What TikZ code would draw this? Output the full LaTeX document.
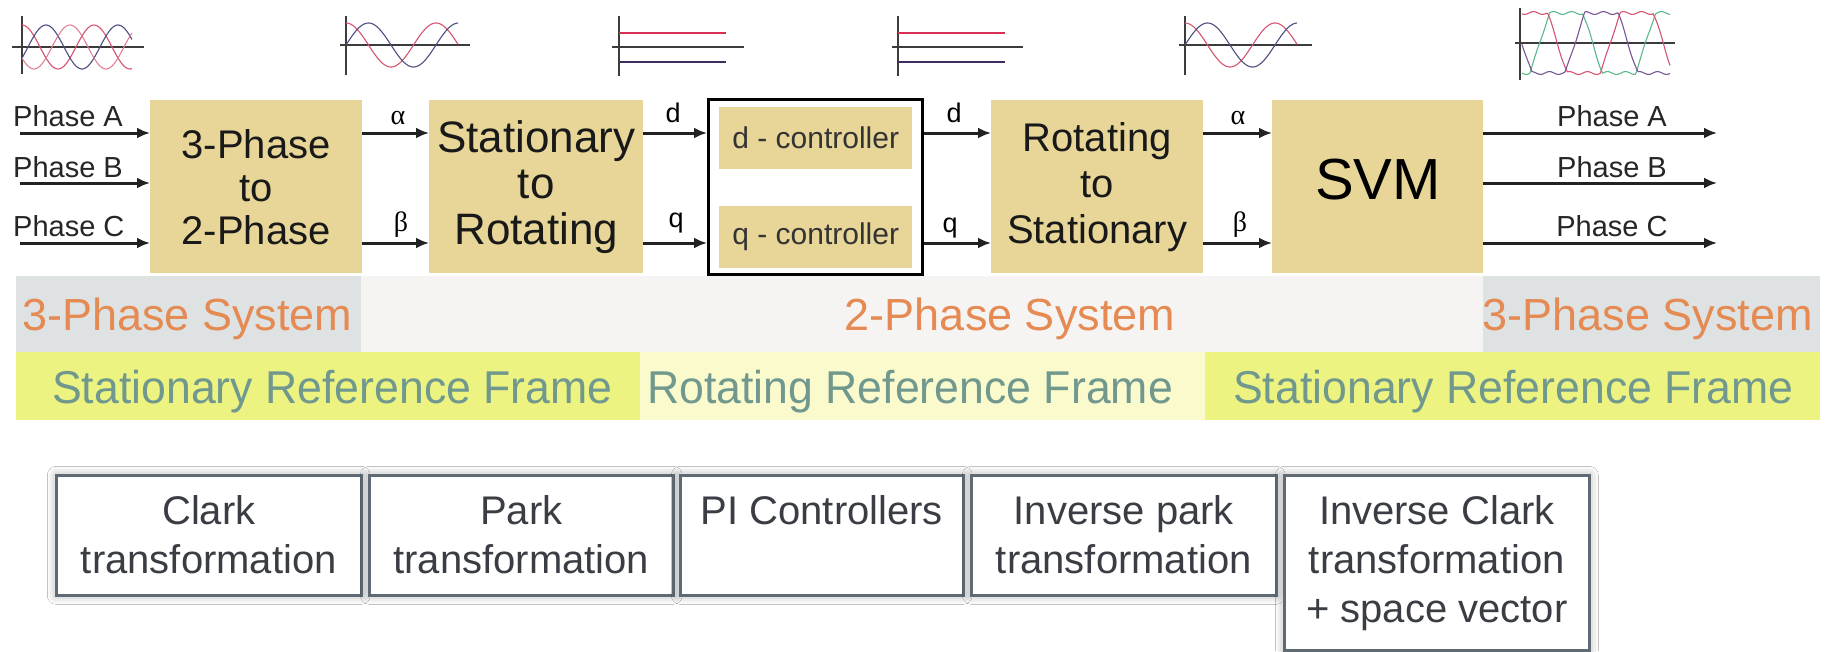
\documentclass[tikz,border=0pt]{standalone}
\usepackage{fontspec}
\setmainfont{Liberation Sans}
\newfontfamily\greekfont{Liberation Serif}
\newfontfamily\framefont[FakeStretch=0.97]{Liberation Sans}
\usetikzlibrary{arrows.meta,shadows.blur}

\definecolor{blockfill}{RGB}{231,214,152}
\definecolor{sigcol}{RGB}{34,34,34}
\definecolor{bandgrey}{RGB}{223,226,227}
\definecolor{bandlight}{RGB}{246,244,243}
\definecolor{bandyellow}{RGB}{237,243,128}
\definecolor{bandpale}{RGB}{250,250,204}
\definecolor{systext}{RGB}{229,138,82}
\definecolor{frametext}{RGB}{112,152,142}
\definecolor{noteborder}{RGB}{95,106,116}
\definecolor{notetext}{RGB}{58,62,68}
\definecolor{wred}{RGB}{214,84,112}
\definecolor{wpink}{RGB}{226,130,150}
\definecolor{wblue}{RGB}{78,78,130}
\definecolor{wgreen}{RGB}{92,184,140}
\definecolor{wpurple}{RGB}{120,84,150}
\definecolor{dcred}{RGB}{214,48,82}
\definecolor{dcpurple}{RGB}{64,44,96}
\definecolor{axiscol}{RGB}{60,60,60}

\tikzset{
  block/.style={fill=blockfill, anchor=north west, inner sep=0pt, align=center, text=black!90},
  ctrl/.style={fill=blockfill, anchor=north west, inner sep=0pt,
    font=\fontsize{30pt}{32pt}\selectfont, text=black!80},
  sig/.style={draw=sigcol, line width=3pt, -{Latex[length=13pt,width=11pt]}},
  plabel/.style={inner sep=0pt, font=\fontsize{29pt}{31pt}\selectfont, text=black!85},
  glabel/.style={inner sep=0pt, font=\greekfont\fontsize{28pt}{30pt}\selectfont},
  slabel/.style={inner sep=0pt, font=\fontsize{27pt}{29pt}\selectfont},
  systxt/.style={inner sep=0pt, text=systext, font=\fontsize{45pt}{47pt}\selectfont},
  frametxt/.style={inner sep=0pt, text=frametext, font=\framefont\fontsize{46pt}{48pt}\selectfont},
  note/.style={anchor=north west, inner sep=0pt, draw=noteborder, line width=2.6pt, fill=white,
    blur shadow={shadow xshift=0pt, shadow yshift=0pt, shadow blur radius=9pt, shadow opacity=35}},
  notetxt/.style={anchor=north, inner sep=0pt, align=center, text=notetext,
    font=\fontsize{40pt}{49pt}\selectfont},
  axisline/.style={draw=axiscol, line width=1.3pt},
  wave/.style={line width=1.1pt, smooth},
  dcline/.style={line width=2.6pt},
}

\begin{document}
\begin{tikzpicture}[x=1pt,y=-1pt]
\useasboundingbox (0,0) rectangle (1828,651);
\fill[white] (0,0) rectangle (1828,651);

% ---------- waveform sketches above the chain ----------
% three-phase sines
\draw[axisline] (22,16) -- (22,74);
\draw[axisline] (12,47) -- (144,47);
\draw[wave, wred]  plot[domain=0:110, samples=90] ({22+\x},{47-22*cos(5*\x)});
\draw[wave, wblue] plot[domain=0:110, samples=90] ({22+\x},{47-22*cos(5*\x-120)});
\draw[wave, wpink] plot[domain=0:110, samples=90] ({22+\x},{47-22*cos(5*\x+120)});
% alpha/beta sines
\draw[axisline] (346,16) -- (346,75);
\draw[axisline] (340,45) -- (470,45);
\draw[wave, wred]  plot[domain=0:112, samples=90] ({346+\x},{45-22*cos(4*\x)});
\draw[wave, wblue] plot[domain=0:112, samples=90] ({346+\x},{45-22*sin(4*\x)});
% d/q constants
\draw[axisline] (619,16) -- (619,76);
\draw[axisline] (612,47) -- (744,47);
\draw[dcline, dcred] (619,33) -- (726,33);
\draw[dcline, dcpurple] (619,62) -- (726,62);
\draw[axisline] (898,16) -- (898,76);
\draw[axisline] (892,47) -- (1023,47);
\draw[dcline, dcred] (898,33) -- (1005,33);
\draw[dcline, dcpurple] (898,62) -- (1005,62);
% alpha/beta sines after inverse Park
\draw[axisline] (1185,16) -- (1185,75);
\draw[axisline] (1179,45) -- (1312,45);
\draw[wave, wred]  plot[domain=0:112, samples=90] ({1185+\x},{45-22*cos(4*\x)});
\draw[wave, wblue] plot[domain=0:112, samples=90] ({1185+\x},{45-22*sin(4*\x)});
% modulated three-phase output
\draw[axisline] (1520,8) -- (1520,80);
\draw[axisline] (1515,43) -- (1675,43);
\draw[wave, wgreen]  plot[domain=0:148, samples=150] ({1522+\x},{43-30*max(-1,min(1,1.8*sin(3.4*\x-60)))+1.4*sin(20*\x)});
\draw[wave, wred]    plot[domain=0:148, samples=150] ({1522+\x},{43-30*max(-1,min(1,1.8*sin(3.4*\x+60)))+1.4*sin(20*\x+40)});
\draw[wave, wpurple] plot[domain=0:148, samples=150] ({1522+\x},{43-30*max(-1,min(1,1.8*sin(3.4*\x+180)))+1.4*sin(20*\x+80)});

% ---------- signal rows ----------
\coordinate (rowA) at (0,133);
\coordinate (rowB) at (0,183);
\coordinate (rowC) at (0,243);

% ---------- processing blocks ----------
\node[block, minimum width=212pt, minimum height=173pt, font=\fontsize{40pt}{43pt}\selectfont]
  (clarke) at (150,100) {3-Phase\\to\\2-Phase};
\node[block, minimum width=214pt, minimum height=173pt, font=\fontsize{44pt}{46pt}\selectfont]
  (park) at (429,100) {Stationary\\to\\Rotating};
\node[anchor=north west, inner sep=0pt, draw=black, line width=2.6pt,
  minimum width=214pt, minimum height=175pt] (pi) at (707,98) {};
\node[ctrl, minimum width=193pt, minimum height=62pt] (dctrl) at (719,107) {d - controller};
\node[ctrl, minimum width=193pt, minimum height=62pt] (qctrl) at (719,206) {q - controller};
\node[block, minimum width=212pt, minimum height=173pt, font=\fontsize{40pt}{46pt}\selectfont]
  (ipark) at (991,100) {Rotating\\to\\Stationary};
\node[block, minimum width=211pt, minimum height=173pt] (svm) at (1272,100) {};
\node[inner sep=0pt, font=\fontsize{58pt}{60pt}\selectfont] (svmtxt) at (1378,180) {SVM};

% ---------- inputs ----------
\coordinate (inA) at (20,133);
\coordinate (inB) at (20,183);
\coordinate (inC) at (20,243);
\draw[sig] (inA) -- (inA -| clarke.west);
\draw[sig] (inB) -- (inB -| clarke.west);
\draw[sig] (inC) -- (inC -| clarke.west);
\node[plabel, anchor=west] (inAlbl) at (13,116) {Phase A};
\node[plabel, anchor=west] (inBlbl) at (13,167) {Phase B};
\node[plabel, anchor=west] (inClbl) at (13,226) {Phase C};

% ---------- links between blocks ----------
\draw[sig] (clarke.east |- rowA) -- (park.west |- rowA);
\draw[sig] (clarke.east |- rowC) -- (park.west |- rowC);
\node[glabel] (al1) at (398,118) {α};
\node[glabel] (be1) at (401,225) {β};

\draw[sig] (park.east |- rowA) -- (pi.west |- rowA);
\draw[sig] (park.east |- rowC) -- (pi.west |- rowC);
\node[slabel] (d1) at (673,113) {d};
\node[slabel] (q1) at (676,223) {q};

\draw[sig] (pi.east |- rowA) -- (ipark.west |- rowA);
\draw[sig] (pi.east |- rowC) -- (ipark.west |- rowC);
\node[slabel] (d2) at (954,113) {d};
\node[slabel] (q2) at (950,228) {q};

\draw[sig] (ipark.east |- rowA) -- (svm.west |- rowA);
\draw[sig] (ipark.east |- rowC) -- (svm.west |- rowC);
\node[glabel] (al2) at (1238,118) {α};
\node[glabel] (be2) at (1240,225) {β};

% ---------- outputs ----------
\coordinate (outA) at (1717,133);
\coordinate (outB) at (1717,183);
\coordinate (outC) at (1717,243);
\draw[sig] (svm.east |- outA) -- (outA);
\draw[sig] (svm.east |- outB) -- (outB);
\draw[sig] (svm.east |- outC) -- (outC);
\node[plabel] (outAlbl) at (1612,116) {Phase A};
\node[plabel] (outBlbl) at (1612,167) {Phase B};
\node[plabel] (outClbl) at (1612,226) {Phase C};

% ---------- system / frame bands ----------
\fill[bandgrey]  (16,276) rectangle (361,352);
\fill[bandlight] (361,276) rectangle (1483,352);
\fill[bandgrey]  (1483,276) rectangle (1820,352);
\fill[bandyellow] (16,352) rectangle (640,420);
\fill[bandpale]   (640,352) rectangle (1205,420);
\fill[bandyellow] (1205,352) rectangle (1820,420);

\node[systxt, anchor=west] (sys3l) at (22,319) {3-Phase System};
\node[systxt] (sys2) at (1010,319) {2-Phase System};
\node[systxt, anchor=east] (sys3r) at (1813,319) {3-Phase System};
\node[frametxt, anchor=west] (frl) at (52,392) {Stationary Reference Frame};
\node[frametxt, anchor=west] (frm) at (647,392) {Rotating Reference Frame};
\node[frametxt, anchor=west] (frr) at (1233,392) {Stationary Reference Frame};

% ---------- transformation notes ----------
\node[note, minimum width=305pt, minimum height=120pt] (n1) at (55,474) {};
\node[note, minimum width=304pt, minimum height=120pt] (n2) at (368,474) {};
\node[note, minimum width=283pt, minimum height=120pt] (n3) at (679,474) {};
\node[note, minimum width=305pt, minimum height=120pt] (n4) at (970,474) {};
\node[note, minimum width=305pt, minimum height=175pt] (n5) at (1283,474) {};
\node[notetxt] (n1t) at (n1.north |- 0,495) {Clark\\transformation};
\node[notetxt] (n2t) at (n2.north |- 0,495) {Park\\transformation};
\node[notetxt] (n3t) at (n3.north |- 0,495) {PI Controllers};
\node[notetxt] (n4t) at (n4.north |- 0,495) {Inverse park\\transformation};
\node[notetxt] (n5t) at (n5.north |- 0,495) {Inverse Clark\\transformation\\+ space vector};
\end{tikzpicture}
\end{document}
